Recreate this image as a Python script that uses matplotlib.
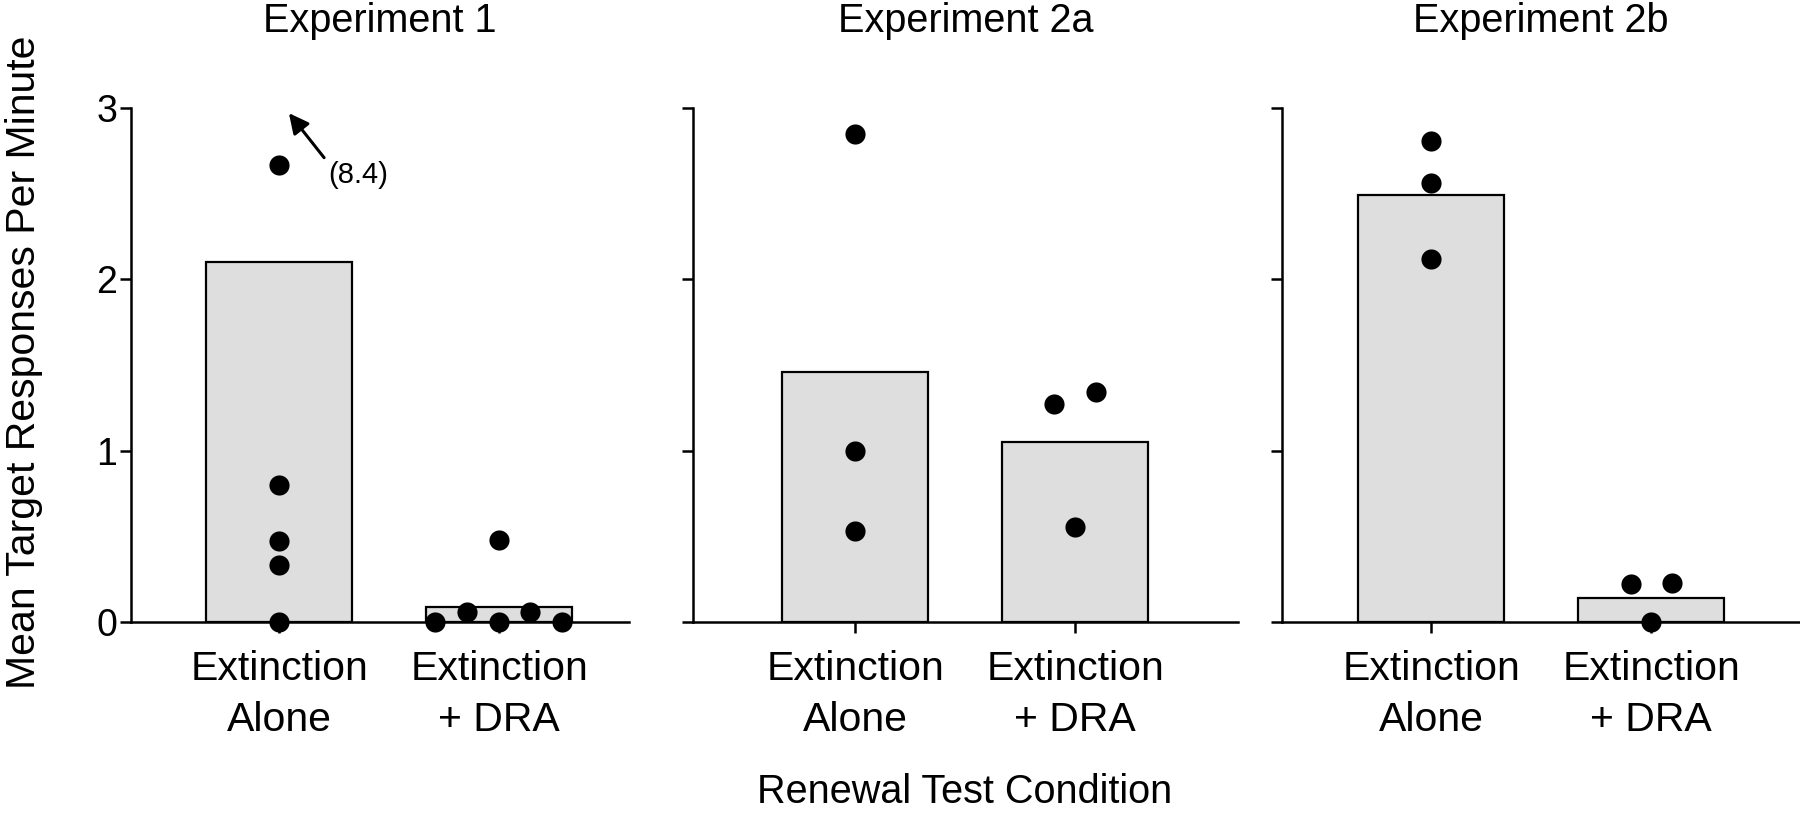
import matplotlib
matplotlib.use("Agg")
import matplotlib.pyplot as plt
import numpy as np

plt.rcParams['font.family'] = ['Liberation Sans', 'DejaVu Sans']

# ---------------- data ----------------
panel_titles = ["Experiment 1", "Experiment 2a", "Experiment 2b"]
categories = ["Extinction\nAlone", "Extinction\n+ DRA"]

bar_means_exp1 = [2.10, 0.09]
bar_means_exp2a = [1.46, 1.05]
bar_means_exp2b = [2.49, 0.14]

exp1_alone = [2.67, 0.80, 0.47, 0.33, 0.0]
exp1_dra = [0.0, 0.06, 0.0, 0.06, 0.0, 0.48]
exp2a_alone = [2.85, 1.00, 0.53]
exp2a_dra = [1.27, 1.34, 0.555]
exp2b_alone = [2.81, 2.56, 2.12]
exp2b_dra = [0.22, 0.23, 0.0]

exp1_outlier = 8.4
y_ticks = [0, 1, 2, 3]
x_label = "Renewal Test Condition"
y_label = "Mean Target Responses Per Minute"

# horizontal jitter of the dots (layout only)
jit_exp1_alone = [0, 0, 0, 0, 0]
jit_exp1_dra = [-0.29, -0.145, 0.0, 0.14, 0.285, 0.0]
jit_exp2a_alone = [0, 0, 0]
jit_exp2a_dra = [-0.095, 0.095, 0.0]
jit_exp2b_alone = [0, 0, 0]
jit_exp2b_dra = [-0.09, 0.095, 0.0]

# ---------------- layout ----------------
W, H = 1800, 816
fig = plt.figure(figsize=(W / 100, H / 100), dpi=100)

y0_px, y3_px = 622, 108
spacing_px = 220.0
panels = [
    dict(left=131, right=629, c0=279, means=bar_means_exp1,
         pts=[(exp1_alone, jit_exp1_alone), (exp1_dra, jit_exp1_dra)]),
    dict(left=693, right=1238, c0=855, means=bar_means_exp2a,
         pts=[(exp2a_alone, jit_exp2a_alone), (exp2a_dra, jit_exp2a_dra)]),
    dict(left=1282, right=1800, c0=1431, means=bar_means_exp2b,
         pts=[(exp2b_alone, jit_exp2b_alone), (exp2b_dra, jit_exp2b_dra)]),
]

LW = 1.8
FS = 28.5
FS_TICK = 29.5
axes = []
for i, p in enumerate(panels):
    ax = fig.add_axes([p['left'] / W, (H - y0_px) / H,
                       (p['right'] - p['left']) / W, (y0_px - y3_px) / H])
    axes.append(ax)
    x = np.arange(len(categories))
    ax.bar(x, p['means'], width=0.668, color='#dedede', edgecolor='black',
           linewidth=1.6, zorder=1)
    for k, (vals, jit) in enumerate(p['pts']):
        ax.plot(np.full(len(vals), x[k]) + np.array(jit), vals, 'o',
                color='black', markersize=14.5, zorder=3, clip_on=False,
                markeredgewidth=0)
    ax.set_xlim(-(p['c0'] - p['left']) / spacing_px,
                (p['right'] - p['c0']) / spacing_px)
    ax.set_ylim(0, 3)
    ax.set_yticks(y_ticks)
    ax.set_xticks(x)
    ax.set_xticklabels(categories, fontsize=FS_TICK, linespacing=1.43)
    if i == 0:
        ax.set_yticklabels([str(t) for t in y_ticks], fontsize=27)
    else:
        ax.set_yticklabels([])
    for s in ['top', 'right']:
        ax.spines[s].set_visible(False)
    for s in ['left', 'bottom']:
        ax.spines[s].set_linewidth(LW)
        ax.spines[s].set_color('black')
    ax.tick_params(axis='both', length=8, width=LW, color='black')
    ax.tick_params(axis='x', pad=12)
    ax.tick_params(axis='y', pad=2)
    ax.patch.set_alpha(0)
    # title centered above each panel
    cx = (p['left'] + p['right']) / 2 / W
    fig.text(cx, (H - 32) / H, panel_titles[i], ha='center', va='baseline',
             fontsize=FS)

# outlier annotation in experiment 1
axes[0].annotate("", xy=(0.045, 2.97), xytext=(0.205, 2.71),
                 arrowprops=dict(arrowstyle='-|>', color='black', lw=2.2,
                                 mutation_scale=30, shrinkA=0, shrinkB=0),
                 annotation_clip=False)
axes[0].text(0.222, 2.61, f"({exp1_outlier})", fontsize=21, ha='left',
             va='center')

fig.text(965 / W, (H - 803) / H, x_label, ha='center', va='baseline',
         fontsize=FS)
fig.text(24 / W, (H - 362) / H, y_label, rotation=90, ha='center',
         va='center', fontsize=29.5)

fig.savefig("out.png", dpi=100)
